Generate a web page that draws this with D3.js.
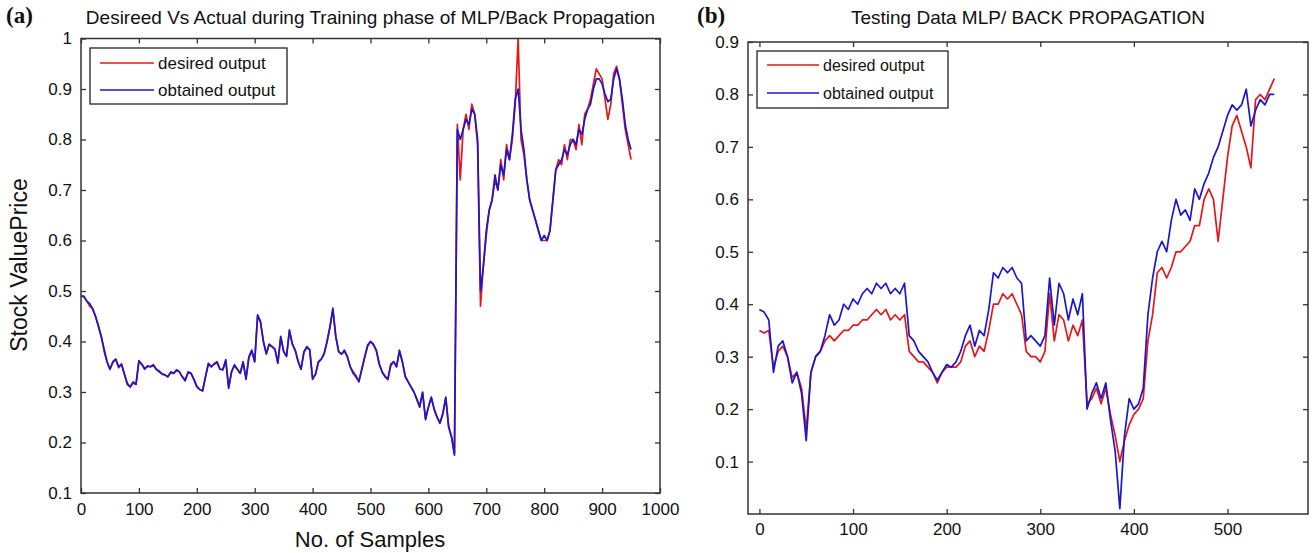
<!DOCTYPE html>
<html>
<head>
<meta charset="utf-8">
<script src="https://cdn.jsdelivr.net/npm/d3@7/dist/d3.min.js"></script>
<style>
  body { margin: 0; background: #fff; }
  svg text { font-family: "Liberation Sans", Arial, sans-serif; fill: #111; }
  .tag { font-family: "Liberation Serif", "Times New Roman", serif !important; font-weight: bold; }
</style>
</head>
<body>
<div id="chart"></div>
<script>
// ---- data ----
// panel (a): training, one value every 5 samples (0..950)
var trainStep = 5;
var trainDesired = [
  0.49,0.488,0.48,0.47,0.465,0.45,0.432,0.41,0.38,0.36,
  0.345,0.358,0.365,0.348,0.355,0.335,0.318,0.31,0.318,0.315,
  0.36,0.355,0.347,0.35,0.35,0.352,0.345,0.342,0.335,0.334,
  0.33,0.338,0.337,0.342,0.34,0.33,0.325,0.338,0.337,0.325,
  0.312,0.305,0.303,0.33,0.355,0.35,0.355,0.358,0.345,0.344,
  0.362,0.31,0.34,0.352,0.345,0.337,0.358,0.327,0.368,0.38,
  0.36,0.45,0.438,0.40,0.377,0.393,0.39,0.384,0.358,0.408,
  0.38,0.372,0.42,0.395,0.382,0.362,0.345,0.378,0.388,0.383,
  0.327,0.335,0.358,0.365,0.375,0.40,0.428,0.462,0.41,0.38,
  0.375,0.38,0.37,0.35,0.34,0.332,0.322,0.345,0.368,0.39,
  0.40,0.393,0.382,0.357,0.34,0.332,0.325,0.352,0.36,0.35,
  0.38,0.36,0.332,0.32,0.31,0.30,0.287,0.272,0.298,0.248,
  0.27,0.288,0.267,0.25,0.24,0.256,0.288,0.232,0.212,0.178,
  0.83,0.72,0.82,0.85,0.82,0.87,0.85,0.79,0.47,0.55,
  0.61,0.66,0.68,0.72,0.70,0.76,0.72,0.79,0.76,0.80,
  0.87,1.0,0.80,0.77,0.72,0.68,0.66,0.64,0.62,0.60,
  0.60,0.60,0.62,0.68,0.74,0.76,0.75,0.79,0.76,0.80,
  0.80,0.78,0.83,0.79,0.85,0.86,0.88,0.91,0.94,0.93,
  0.92,0.88,0.84,0.87,0.93,0.945,0.92,0.87,0.82,0.79,
  0.76
];
var trainObtained = [
  0.49,0.49,0.48,0.475,0.465,0.45,0.43,0.41,0.385,0.36,
  0.345,0.36,0.365,0.35,0.355,0.335,0.315,0.31,0.32,0.315,
  0.362,0.355,0.345,0.352,0.35,0.354,0.345,0.34,0.336,0.334,
  0.33,0.34,0.337,0.344,0.34,0.33,0.322,0.34,0.337,0.325,
  0.31,0.305,0.302,0.33,0.357,0.35,0.356,0.36,0.345,0.344,
  0.364,0.307,0.34,0.354,0.345,0.337,0.36,0.325,0.37,0.383,
  0.36,0.453,0.44,0.40,0.375,0.395,0.39,0.385,0.357,0.41,
  0.38,0.37,0.423,0.395,0.383,0.36,0.345,0.38,0.39,0.384,
  0.325,0.335,0.36,0.365,0.377,0.40,0.43,0.466,0.41,0.38,
  0.375,0.383,0.37,0.35,0.337,0.33,0.32,0.345,0.37,0.393,
  0.40,0.395,0.383,0.355,0.34,0.33,0.325,0.355,0.36,0.35,
  0.383,0.36,0.33,0.32,0.31,0.30,0.285,0.27,0.30,0.245,
  0.27,0.29,0.265,0.25,0.238,0.258,0.29,0.23,0.21,0.175,
  0.82,0.80,0.82,0.84,0.83,0.86,0.85,0.80,0.50,0.55,
  0.62,0.66,0.68,0.73,0.70,0.75,0.73,0.78,0.76,0.81,
  0.88,0.90,0.82,0.78,0.72,0.68,0.66,0.64,0.62,0.60,
  0.61,0.60,0.62,0.68,0.74,0.75,0.76,0.78,0.77,0.79,
  0.80,0.79,0.82,0.81,0.84,0.86,0.87,0.90,0.92,0.92,
  0.91,0.89,0.875,0.88,0.92,0.94,0.92,0.88,0.83,0.80,
  0.78
];

// panel (b): testing, one value every 5 samples (0..550)
var testStep = 5;
var testDesired = [
  0.35,0.345,0.35,0.28,0.31,0.32,0.30,0.26,0.27,0.24,
  0.16,0.27,0.30,0.31,0.33,0.34,0.33,0.34,0.35,0.35,
  0.36,0.36,0.37,0.37,0.38,0.39,0.38,0.39,0.37,0.38,
  0.37,0.38,0.31,0.30,0.29,0.29,0.28,0.27,0.25,0.27,
  0.28,0.28,0.28,0.29,0.32,0.33,0.30,0.32,0.31,0.35,
  0.40,0.40,0.42,0.41,0.42,0.40,0.38,0.31,0.30,0.30,
  0.29,0.31,0.42,0.33,0.38,0.37,0.33,0.36,0.34,0.37,
  0.21,0.22,0.24,0.21,0.24,0.19,0.15,0.10,0.14,0.17,
  0.19,0.20,0.22,0.33,0.38,0.46,0.47,0.45,0.47,0.50,
  0.50,0.51,0.52,0.55,0.55,0.60,0.62,0.60,0.52,0.60,
  0.68,0.74,0.76,0.73,0.70,0.66,0.79,0.80,0.79,0.81,
  0.83
];
var testObtained = [
  0.39,0.385,0.37,0.27,0.32,0.33,0.30,0.25,0.27,0.23,
  0.14,0.27,0.30,0.31,0.34,0.38,0.36,0.37,0.40,0.39,
  0.41,0.40,0.42,0.43,0.42,0.44,0.43,0.44,0.42,0.43,
  0.42,0.44,0.34,0.33,0.31,0.30,0.29,0.27,0.255,0.27,
  0.285,0.28,0.29,0.31,0.34,0.36,0.32,0.35,0.34,0.39,
  0.46,0.45,0.47,0.46,0.47,0.45,0.44,0.33,0.34,0.33,
  0.32,0.34,0.45,0.36,0.44,0.42,0.37,0.41,0.38,0.42,
  0.20,0.23,0.25,0.22,0.25,0.18,0.12,0.01,0.15,0.22,
  0.20,0.21,0.24,0.38,0.45,0.50,0.52,0.50,0.56,0.60,
  0.57,0.58,0.56,0.62,0.60,0.63,0.65,0.68,0.70,0.73,
  0.76,0.78,0.77,0.78,0.81,0.74,0.77,0.79,0.78,0.80,
  0.80
];

var seriesNames = ["desired output", "obtained output"];
var seriesColors = ["#e3171c", "#1b17cc"];

var trainXTicks = [0, 100, 200, 300, 400, 500, 600, 700, 800, 900, 1000];
var trainYTicks = [0.1, 0.2, 0.3, 0.4, 0.5, 0.6, 0.7, 0.8, 0.9, 1];
var testXTicks = [0, 100, 200, 300, 400, 500];
var testYTicks = [0.1, 0.2, 0.3, 0.4, 0.5, 0.6, 0.7, 0.8, 0.9];

// ---- drawing ----
var width = 1312, height = 553;
var svg = d3.select("#chart").append("svg")
    .attr("width", width)
    .attr("height", height);
svg.append("rect").attr("width", width).attr("height", height).attr("fill", "#fff");

function drawPanel(p) {
    var x = d3.scaleLinear().domain(p.xDomain).range([p.left, p.right]);
    var y = d3.scaleLinear().domain(p.yDomain).range([p.bottom, p.top]);
    var g = svg.append("g");

    var line = d3.line()
        .x(function(d, i) { return x(i * p.step); })
        .y(function(d) { return y(d); });

    [p.desired, p.obtained].forEach(function(s, k) {
        g.append("path")
            .datum(s)
            .attr("d", line)
            .attr("fill", "none")
            .attr("stroke", seriesColors[k])
            .attr("stroke-width", 1.7)
            .attr("stroke-linejoin", "round");
    });

    // axes, ticks pointing inward like matlab
    var fmt = function(d) { return d3.format("")(d); };
    var axB = g.append("g").attr("transform", "translate(0," + p.bottom + ")")
        .call(d3.axisBottom(x).tickValues(p.xTicks).tickSizeInner(-5).tickSizeOuter(0).tickPadding(p.xPad).tickFormat(fmt));
    var axT = g.append("g").attr("transform", "translate(0," + p.top + ")")
        .call(d3.axisTop(x).tickValues(p.xTicks).tickSizeInner(-5).tickSizeOuter(0));
    var axL = g.append("g").attr("transform", "translate(" + p.left + ",0)")
        .call(d3.axisLeft(y).tickValues(p.yTicks).tickSizeInner(-5).tickSizeOuter(0).tickPadding(9).tickFormat(fmt));
    var axR = g.append("g").attr("transform", "translate(" + p.right + ",0)")
        .call(d3.axisRight(y).tickValues(p.yTicks).tickSizeInner(-5).tickSizeOuter(0));
    // top and right only carry tick marks
    axT.selectAll("text").remove();
    axR.selectAll("text").remove();
    [axB, axT, axL, axR].forEach(function(a) {
        a.select(".domain").remove();
        a.selectAll("line").attr("stroke", "#333").attr("stroke-width", 1.3);
        a.selectAll("text").style("font-size", "17px").attr("fill", "#111");
    });
    g.append("rect")
        .attr("x", p.left).attr("y", p.top)
        .attr("width", p.right - p.left).attr("height", p.bottom - p.top)
        .attr("fill", "none").attr("stroke", "#333").attr("stroke-width", 1.5);

    // title
    svg.append("text")
        .attr("x", (p.left + p.right) / 2).attr("y", 24)
        .attr("text-anchor", "middle")
        .style("font-size", "19px")
        .text(p.title);
    svg.append("text").attr("class", "tag")
        .attr("x", p.tagX).attr("y", 23)
        .style("font-size", "23px")
        .text(p.tag);

    // legend
    var lg = svg.append("g");
    lg.append("rect")
        .attr("x", p.legend[0]).attr("y", p.legend[1])
        .attr("width", p.legend[2]).attr("height", p.legend[3])
        .attr("fill", "#fff").attr("stroke", "#222").attr("stroke-width", 1.3);
    seriesNames.forEach(function(name, k) {
        var ly = p.legend[1] + p.legendRow0 + k * p.legendGap;
        lg.append("line")
            .attr("x1", p.legend[0] + 10).attr("x2", p.legend[0] + 10 + p.legendLine)
            .attr("y1", ly).attr("y2", ly)
            .attr("stroke", seriesColors[k]).attr("stroke-width", 1.4);
        lg.append("text")
            .attr("x", p.legend[0] + 14 + p.legendLine).attr("y", ly + 6)
            .style("font-size", p.legendFont + "px")
            .text(name);
    });
}

drawPanel({
    left: 81, right: 660, top: 38.5, bottom: 493,
    xDomain: [0, 1000], yDomain: [0.1, 1],
    xTicks: trainXTicks, yTicks: trainYTicks, xPad: 10,
    step: trainStep, desired: trainDesired, obtained: trainObtained,
    title: "Desireed Vs Actual during Training phase of MLP/Back Propagation",
    tag: "(a)", tagX: 6,
    legend: [90, 48, 197, 56], legendRow0: 15, legendGap: 27, legendLine: 54, legendFont: 17
});

drawPanel({
    left: 748, right: 1308, top: 42, bottom: 514,
    xDomain: [-12.2, 586], yDomain: [0, 0.9],
    xTicks: testXTicks, yTicks: testYTicks, xPad: 9,
    step: testStep, desired: testDesired, obtained: testObtained,
    title: "Testing Data MLP/ BACK PROPAGATION",
    tag: "(b)", tagX: 697,
    legend: [757, 51, 191, 57], legendRow0: 14, legendGap: 28, legendLine: 52, legendFont: 16
});

// axis labels of panel (a)
svg.append("text")
    .attr("transform", "translate(27,265)rotate(-90)")
    .attr("text-anchor", "middle")
    .style("font-size", "23px")
    .text("Stock ValuePrice");
svg.append("text")
    .attr("x", 370).attr("y", 547)
    .attr("text-anchor", "middle")
    .style("font-size", "22px")
    .text("No. of Samples");
</script>
</body>
</html>
